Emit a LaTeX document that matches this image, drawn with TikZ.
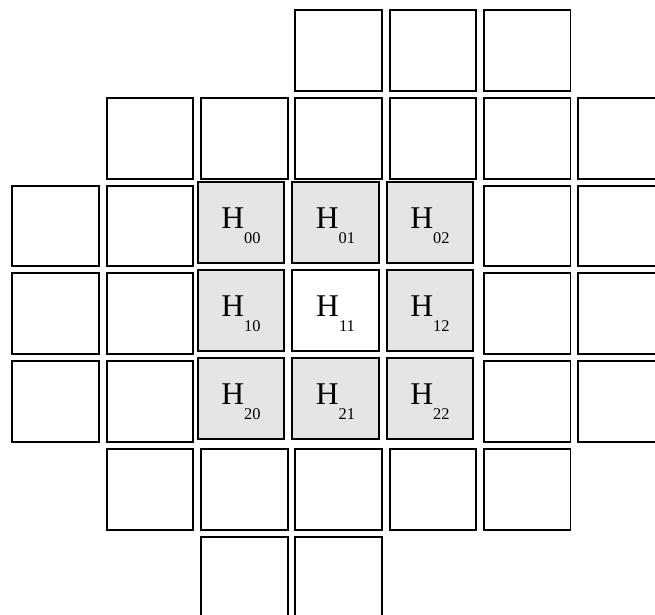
\documentclass[tikz,border=0pt]{standalone}
\usepackage{fontspec}
\setmainfont{Liberation Serif}
\definecolor{kgray}{gray}{0.9}
\newcommand{\hlabel}[1]{H\raisebox{-12pt}{\fontsize{14}{14}\selectfont #1}}

\begin{document}
\begin{tikzpicture}[x=0.03cm, y=-0.03cm,
    cell/.style={draw, line width=1.6pt, inner sep=0pt, minimum width=2.6cm, minimum height=2.42cm},
    hcell/.style={cell, font=\fontsize{27}{30}\selectfont, text height=23pt, text depth=12pt}]
    \useasboundingbox (0,0) rectangle (655,614);
    \clip (0,0) rectangle (655,614);

    % image cells, row/column
    \foreach \r/\c in {0/3,0/4,0/5,
                       1/1,1/2,1/3,1/4,1/5,1/6,
                       2/0,2/1,2/5,2/6,
                       3/0,3/1,3/5,3/6,
                       4/0,4/1,4/5,4/6,
                       5/1,5/2,5/3,5/4,5/5,
                       6/2,6/3}
        \node[cell] (cell-\r-\c) at ({55.7+94.3*\c},{50.5+87.75*\r}) {};

    % kernel cells
    \foreach \r/\c/\f in {0/0/kgray,0/1/kgray,0/2/kgray,
                          1/0/kgray,1/1/white,1/2/kgray,
                          2/0/kgray,2/1/kgray,2/2/kgray}
        \node[hcell, fill=\f] (h\r\c) at ({241+94.5*\c},{222.5+88*\r}) {\hlabel{\r\c}};

\end{tikzpicture}
\end{document}
